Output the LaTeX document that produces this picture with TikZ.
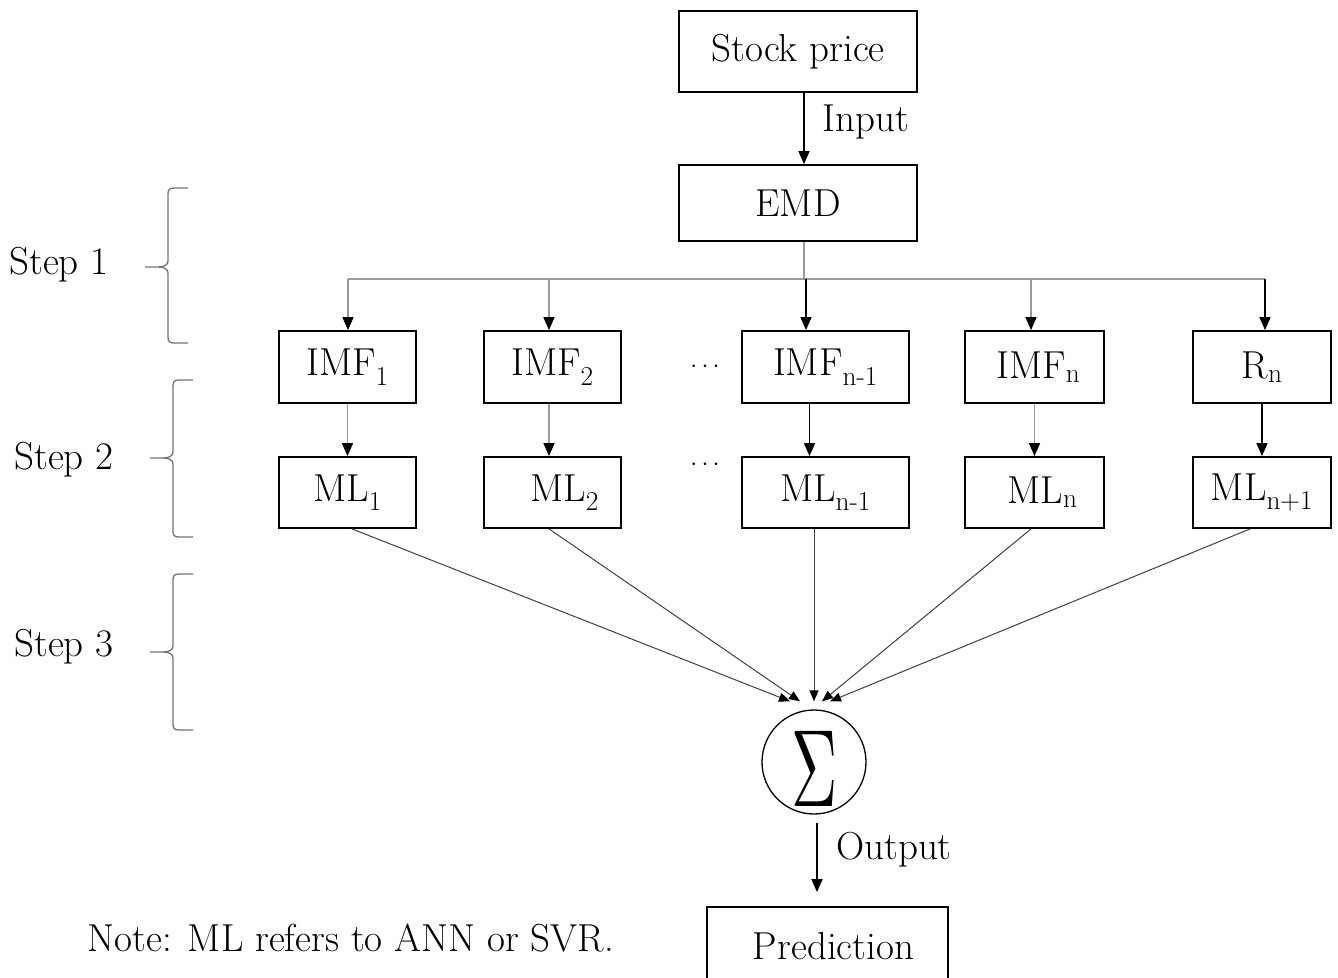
\documentclass[tikz,border=0pt]{standalone}
\usepackage{graphicx}
\usetikzlibrary{arrows.meta,calc}
\newcommand\mainfs{\fontsize{39}{44}\selectfont}
\newcommand\stepbrace[4]{%
  \draw[brc] (#1+20,#2) -- (#1+6,#2) .. controls (#1+1,#2) and (#1,#2+2) .. (#1,#2+6)
    -- (#1,#3-6) .. controls (#1,#3-2) and (#1-4,#3) .. (#1-10,#3) -- (#1-23,#3)
    (#1-10,#3) .. controls (#1-4,#3) and (#1,#3+2) .. (#1,#3+6)
    -- (#1,#4-6) .. controls (#1,#4-2) and (#1+1,#4) .. (#1+6,#4) -- (#1+20,#4);}
\begin{document}
\begin{tikzpicture}[x=1pt,y=-1pt,
  box/.style={draw, line width=1.8pt, inner sep=0pt, font=\mainfs},
  lbl/.style={inner sep=0pt, font=\mainfs},
  tip/.style={-{Triangle[length=13pt,width=11pt,color=black]}},
  garr/.style={draw=black!40, line width=1.5pt, tip},
  barr/.style={draw=black, line width=1.5pt, tip},
  darr/.style={draw=black!75, line width=1pt, -{Triangle[length=11pt,width=9pt,color=black]}},
  brc/.style={draw=black!55, line width=1.3pt}]
\useasboundingbox (0,0) rectangle (1338,977);
\clip (0,0) rectangle (1338,977);
% top
\node[box, minimum width=238pt, minimum height=81pt] (stock) at (798,51.5) {Stock price};
\node[box, minimum width=238pt, minimum height=76pt] (emd) at (798,203) {EMD};
\node[lbl] (input) at (866,122) {Input};
\draw[barr] ([xshift=6pt]stock.south) -- ([xshift=6pt]emd.north);
% IMF row
\node[box, minimum width=137pt, minimum height=72pt] (imf1) at (347.5,367) {IMF\textsubscript{1}};
\node[box, minimum width=137pt, minimum height=72pt] (imf2) at (552.5,367) {IMF\textsubscript{2}};
\node[box, minimum width=167pt, minimum height=72pt] (imfn1) at (825.5,367) {IMF\textsubscript{n-1}};
\node[box, minimum width=139pt, minimum height=72pt] (imfn) at (1034.5,367) {\hspace{8pt}IMF\textsubscript{n}};
\node[box, minimum width=138pt, minimum height=72pt] (rn) at (1262,367) {R\textsubscript{n}};
\node[lbl] (dots1) at (705,367) {$\cdots$};
% ML row
\node[box, minimum width=137pt, minimum height=71pt] (ml1) at (347.5,492.5) {ML\textsubscript{1}};
\node[box, minimum width=137pt, minimum height=71pt] (ml2) at (552.5,492.5) {\hspace{24pt}ML\textsubscript{2}};
\node[box, minimum width=167pt, minimum height=71pt] (mln1) at (825.5,492.5) {ML\textsubscript{n-1}};
\node[box, minimum width=139pt, minimum height=71pt] (mln) at (1034.5,492.5) {\hspace{16pt}ML\textsubscript{n}};
\node[box, minimum width=138pt, minimum height=71pt] (mlnp) at (1262,492.5) {ML\textsubscript{n+1}};
\node[lbl] (dots2) at (705,465) {$\cdots$};
% bus
\coordinate (bus) at (804,279);
\draw[draw=black!40, line width=1.5pt] ([xshift=6pt]emd.south) -- (bus);
\draw[draw=black!40, line width=1.5pt] ($(bus -| imf1.north)+(0.5,0)$) -- ($(bus -| rn.north)+(3,0)$);
\draw[garr] ($(bus -| imf1.north)+(0.5,0)$) -- ($(imf1.north)+(0.5,0)$);
\draw[garr] ($(bus -| imf2.north)+(-3.5,0)$) -- ($(imf2.north)+(-3.5,0)$);
\draw[barr] ($(bus)+(2,0)$) -- ($(bus |- imfn1.north)+(2,0)$);
\draw[garr] ($(bus -| imfn.north)+(-3.5,0)$) -- ($(imfn.north)+(-3.5,0)$);
\draw[barr] ($(bus -| rn.north)+(3,0)$) -- ($(rn.north)+(3,0)$);
% IMF -> ML
\draw[garr] (imf1.south) -- (ml1.north);
\draw[garr] ($(imf2.south)+(-3.5,0)$) -- ($(ml2.north)+(-3.5,0)$);
\draw[barr] ($(imfn1.south)+(-16,0)$) -- ($(mln1.north)+(-16,0)$);
\draw[garr] (imfn.south) -- (mln.north);
\draw[barr] (rn.south) -- (mlnp.north);
% sum
\node[draw, circle, line width=1.3pt, minimum size=104pt, inner sep=0pt] (sig) at (814,762) {};
\node[inner sep=0pt] (sigsym) at (815,769) {\scalebox{6.4}[11]{$\Sigma$}};
\draw[darr] ($(ml1.south)+(4.5,0)$) -- ($(sig.north)+(-24,-8)$);
\draw[darr] ($(ml2.south)+(-3.5,0)$) -- ($(sig.north)+(-14,-8)$);
\draw[darr] ($(mln1.south)+(-11.5,0)$) -- ($(sig.north)+(0,-8)$);
\draw[darr] ($(mln.south)+(-3.5,0)$) -- ($(sig.north)+(8,-8)$);
\draw[darr] ($(mlnp.south)+(-12,0)$) -- ($(sig.north)+(16,-8)$);
% output
\node[box, minimum width=241pt, minimum height=78pt] (pred) at (827.5,946) {\hspace{12pt}Prediction};
\draw[barr] ($(sig.south)+(3,8)$) -- ($(pred.north)+(-10.5,-14)$);
\node[lbl] (output) at (894,850) {Output};
% steps
\node[lbl] (s1) at (59,265) {Step 1};
\node[lbl] (s2) at (64,460) {Step 2};
\node[lbl] (s3) at (64,647) {Step 3};
\stepbrace{168}{188}{267}{343}
\stepbrace{173}{380}{458}{537}
\stepbrace{173}{574}{652}{730}
% note
\node[lbl] (note) at (351,938) {Note: ML refers to ANN or SVR.};
\end{tikzpicture}
\end{document}
